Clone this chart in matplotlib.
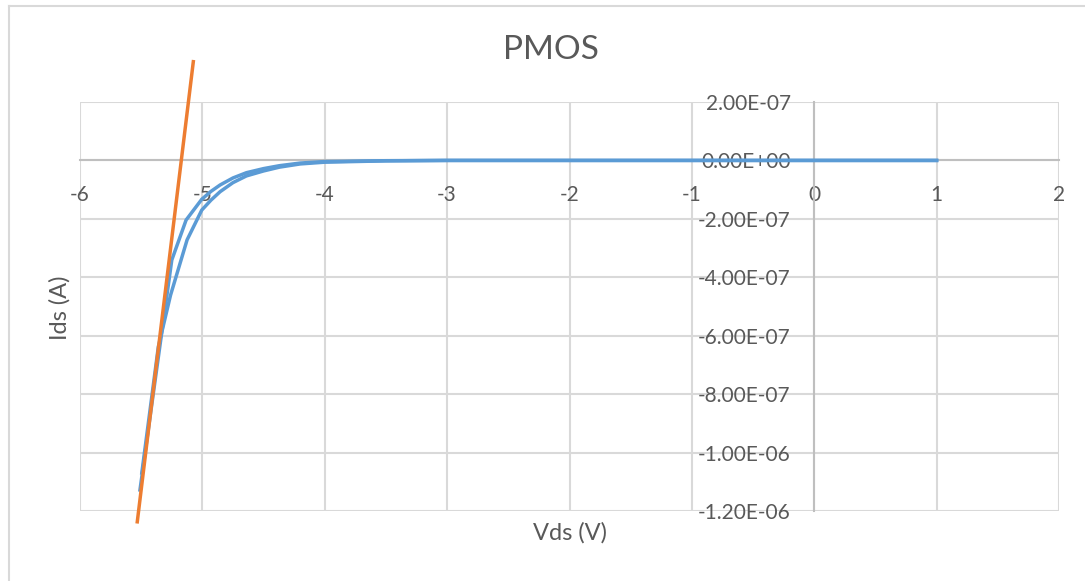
import matplotlib.pyplot as plt
from matplotlib.lines import Line2D
from matplotlib.ticker import FuncFormatter, MultipleLocator

# measured sweep, outer branch (going up) and inner branch (coming back)
vds_up = [-5.51, -5.25, -5.133, -5.005, -4.93, -4.855, -4.75, -4.64, -4.5, -4.37, -4.2, -4.0,
          -3.5, -3.0, -2.0, -1.0, 0.0, 1.0]
ids_up = [-1.128e-6, -3.41e-7, -2.04e-7, -1.33e-7, -1.06e-7, -8.4e-8, -6.0e-8, -4.2e-8,
          -2.8e-8, -1.8e-8, -9e-9, -4e-9, -1e-9, 0.0, 0.0, 0.0, 0.0, 0.0]
vds_down = [1.0, 0.0, -1.0, -2.0, -3.0, -3.5, -4.0, -4.2, -4.37, -4.5, -4.64, -4.75, -4.855,
            -4.93, -5.005, -5.125, -5.26, -5.36, -5.495]
ids_down = [0.0, 0.0, 0.0, 0.0, 0.0, -1.5e-9, -6e-9, -1.2e-8, -2.3e-8, -3.6e-8, -5.3e-8,
            -7.6e-8, -1.07e-7, -1.36e-7, -1.70e-7, -2.72e-7, -4.61e-7, -6.38e-7, -1.07e-6]

# tangent line drawn by hand
fit_vds = [-5.532, -5.074]
fit_ids = [-1.237e-6, 3.38e-7]

blue = '#5B9BD5'
orange = '#ED7D31'
grey_txt = '#595959'

plt.rcParams['font.family'] = ['Lato', 'DejaVu Sans']

fig = plt.figure(figsize=(10.85, 5.81), dpi=100)
ax = fig.add_axes([80 / 1085, 1 - 511 / 581, (1059 - 80) / 1085, (511 - 102) / 581])

ax.plot(vds_up, ids_up, color=blue, lw=2.5, zorder=3)
ax.plot(vds_down, ids_down, color=blue, lw=2.5, zorder=3)
ax.plot(fit_vds, fit_ids, color=orange, lw=2.5, clip_on=False, zorder=4)

ax.set_xlim(-6, 2)
ax.set_ylim(-1.2e-6, 2e-7)
ax.xaxis.set_major_locator(MultipleLocator(1))
ax.yaxis.set_major_locator(MultipleLocator(2e-7))
ax.yaxis.set_major_formatter(FuncFormatter(lambda v, p: f'{v:.2E}'))
ax.xaxis.set_major_formatter(FuncFormatter(lambda v, p: f'{v:g}'))

ax.grid(True, color='#d9d9d9', lw=1.5, zorder=0)
ax.set_axisbelow(True)

for s in ['top', 'right']:
    ax.spines[s].set_visible(False)
ax.spines['left'].set_position(('data', 0))
ax.spines['bottom'].set_position(('data', 0))
for s in ['left', 'bottom']:
    ax.spines[s].set_color('#bfbfbf')
    ax.spines[s].set_linewidth(1.5)

ax.tick_params(axis='y', length=0, pad=17, labelsize=15, labelcolor=grey_txt)
ax.tick_params(axis='x', length=0, pad=18, labelsize=15, labelcolor=grey_txt)

fig.text(551 / 1085, 1 - 50 / 581, 'PMOS', ha='center', va='center', fontsize=24, color=grey_txt)
fig.text(570 / 1085, 1 - 533 / 581, 'Vds (V)', ha='center', va='center', fontsize=17, color=grey_txt)
fig.text(60 / 1085, 1 - 308 / 581, 'Ids (A)', ha='center', va='center', fontsize=17,
         color=grey_txt, rotation=90)

# chart area border
fig.add_artist(Line2D([9 / 1085, 9 / 1085], [0, 1 - 6 / 581], color='#d9d9d9', lw=1.5))
fig.add_artist(Line2D([9 / 1085, 1], [1 - 6 / 581, 1 - 6 / 581], color='#d9d9d9', lw=1.5))

fig.savefig('out.png', dpi=100)
